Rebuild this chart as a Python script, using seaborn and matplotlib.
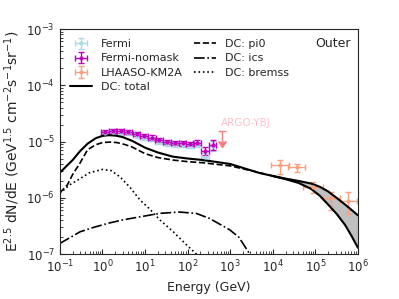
import numpy as np
import pandas as pd
import seaborn as sns
import matplotlib.pyplot as plt
from matplotlib.lines import Line2D

sns.set_style('ticks')
plt.rcParams['font.family'] = ['DejaVu Sans']

# Fermi-LAT points (GeV, E^2.5 flux)
fermi_E = [1.14, 1.73, 2.66, 4.02, 6.34, 9.55, 14.7, 21.5, 33.2, 50.2, 76.2, 113, 168, 255, 386]
nomask_F = [1.49e-5, 1.54e-5, 1.54e-5, 1.49e-5, 1.36e-5, 1.25e-5, 1.17e-5, 1.06e-5,
            9.9e-6, 9.5e-6, 9.3e-6, 9.0e-6, 9.5e-6, 6.8e-6, 8.7e-6]
nomask_dex = [0.04, 0.04, 0.04, 0.04, 0.04, 0.04, 0.04, 0.04,
              0.04, 0.04, 0.04, 0.04, 0.045, 0.07, 0.09]
fermi_F = [1.42e-5, 1.46e-5, 1.46e-5, 1.41e-5, 1.29e-5, 1.18e-5, 1.10e-5, 1.0e-5,
           9.3e-6, 8.9e-6, 8.7e-6, 8.4e-6, 8.8e-6, 5.4e-6, 8.2e-6]

# LHAASO-KM2A
lhaaso_E = [14800, 37600, 89100, 229000, 589000]
lhaaso_Elo = [9300, 22900, 52500, 155000, 380000]
lhaaso_Ehi = [24500, 57500, 155000, 380000, 933000]
lhaaso_F = [3.8e-6, 3.47e-6, 1.58e-6, 9.8e-7, 8.9e-7]
lhaaso_Flo = [2.64e-6, 2.9e-6, 1.2e-6, 6.2e-7, 5.1e-7]
lhaaso_Fhi = [4.8e-6, 3.94e-6, 1.9e-6, 1.28e-6, 1.28e-6]

# ARGO-YBJ upper limit
argo_E = [630]
argo_F = [1.55e-5]

# model curves
tot_E = [0.1, 0.15, 0.2, 0.3, 0.45, 0.7, 1.0, 1.4, 2.0, 3.0, 5.0, 10, 20, 45, 100, 230, 1000, 5000, 1e4]
tot_F = [2.8e-6, 3.8e-6, 4.7e-6, 6.8e-6, 9.2e-6, 1.15e-5, 1.26e-5, 1.3e-5, 1.28e-5, 1.2e-5,
         1.03e-5, 7.8e-6, 6.4e-6, 5.4e-6, 5.0e-6, 4.7e-6, 4.0e-6, 2.75e-6, 2.45e-6]
band_E = [1e4, 2e4, 4e4, 7.9e4, 1.26e5, 2e5, 3.16e5, 5e5, 7.1e5, 1e6]
band_hi = [2.45e-6, 2.2e-6, 2.0e-6, 1.8e-6, 1.58e-6, 1.3e-6, 1.0e-6, 7.6e-7, 6.1e-7, 4.9e-7]
band_lo = [2.45e-6, 2.15e-6, 1.85e-6, 1.45e-6, 1.1e-6, 7.6e-7, 5.2e-7, 3.3e-7, 2.1e-7, 1.3e-7]
pi0_E = [0.1, 0.15, 0.2, 0.3, 0.45, 0.7, 1.0, 1.5, 2.2, 3.3, 5.0, 10, 20, 45, 100, 230, 1000, 5000, 1e4]
pi0_F = [1.23e-6, 1.7e-6, 2.6e-6, 4.2e-6, 7.2e-6, 8.8e-6, 9.6e-6, 9.8e-6, 9.6e-6, 8.9e-6,
         8.0e-6, 6.1e-6, 5.2e-6, 4.7e-6, 4.4e-6, 4.2e-6, 3.7e-6, 2.8e-6, 2.45e-6]
ics_E = [0.1, 0.18, 0.3, 0.63, 1.5, 3.2, 7.6, 22, 63, 160, 330, 980, 1600, 2900, 4000]
ics_F = [1.55e-7, 2.0e-7, 2.5e-7, 3.0e-7, 3.6e-7, 4.1e-7, 4.6e-7, 5.3e-7, 5.6e-7, 5.3e-7,
         4.3e-7, 2.7e-7, 2.0e-7, 1.0e-7, 6e-8]
brem_E = [0.1, 0.17, 0.3, 0.5, 1.0, 1.6, 2.6, 4.4, 7.6, 13, 22, 46, 100, 162, 320]
brem_F = [1.2e-6, 1.7e-6, 2.2e-6, 2.8e-6, 3.2e-6, 3.05e-6, 2.35e-6, 1.55e-6, 9.2e-7, 6.3e-7,
          4.1e-7, 2.5e-7, 1.4e-7, 1.0e-7, 6e-8]

fig = plt.figure(figsize=(3.99, 2.99), dpi=100)
ax = fig.add_axes([0.150, 0.150, 0.747, 0.753])

fE = np.array(fermi_E)
xlo = fE - fE / 10**0.09
xhi = fE * 10**0.09 - fE
nd = 10**np.array(nomask_dex)
fF = np.array(fermi_F)
nF = np.array(nomask_F)
h_fermi = ax.errorbar(fermi_E, fermi_F, xerr=[xlo, xhi], yerr=[fF * (1 - 1 / nd), fF * (nd - 1)],
                      fmt='.', color='lightblue', ms=4, capsize=2, elinewidth=1)
h_nomask = ax.errorbar(fermi_E, nomask_F, xerr=[xlo, xhi], yerr=[nF * (1 - 1 / nd), nF * (nd - 1)],
                       fmt='.', color='m', ms=4, capsize=2, elinewidth=1)
lE = np.array(lhaaso_E)
lF = np.array(lhaaso_F)
h_lhaaso = ax.errorbar(lhaaso_E, lhaaso_F, xerr=[lE - np.array(lhaaso_Elo), np.array(lhaaso_Ehi) - lE],
                       yerr=[lF - np.array(lhaaso_Flo), np.array(lhaaso_Fhi) - lF],
                       fmt='.', color='#f9a07c', ms=4, capsize=2, elinewidth=1)
ax.errorbar(argo_E, argo_F, yerr=[[argo_F[0] * 0.35], [0]], uplims=True, fmt='none',
            color='lightcoral', capsize=3, elinewidth=1)
ax.text(argo_E[0] * 0.95, argo_F[0] * 1.12, 'ARGO-YBJ', color='pink', fontsize=7.5,
        ha='left', va='bottom')

ax.fill_between(band_E, band_lo, band_hi, color='silver', zorder=1)
sns.lineplot(x=tot_E, y=tot_F, color='k', lw=1.5, ax=ax)
sns.lineplot(x=band_E, y=band_hi, color='k', lw=1.5, ax=ax)
sns.lineplot(x=band_E, y=band_lo, color='k', lw=1.5, ax=ax)
sns.lineplot(x=pi0_E, y=pi0_F, color='k', lw=1.2, linestyle='--', ax=ax)
sns.lineplot(x=ics_E, y=ics_F, color='k', lw=1.2, linestyle='-.', ax=ax)
sns.lineplot(x=brem_E, y=brem_F, color='k', lw=1.2, linestyle=':', ax=ax)

ax.set_xscale('log')
ax.set_yscale('log')
ax.set_xlim(0.1, 1e6)
ax.set_ylim(1e-7, 1e-3)
ax.tick_params(which='both', direction='in', labelsize=8.5)
ax.set_xlabel('Energy (GeV)', fontsize=9)
ax.set_ylabel(r'E$^{2.5}$ dN/dE (GeV$^{1.5}$ cm$^{-2}$s$^{-1}$sr$^{-1}$)', fontsize=10, labelpad=3)
ax.text(0.975, 0.965, 'Outer', transform=ax.transAxes, ha='right', va='top', fontsize=9)

hl = [h_fermi, h_nomask, h_lhaaso,
      Line2D([], [], color='k', lw=1.5),
      Line2D([], [], color='k', lw=1.2, ls='--'),
      Line2D([], [], color='k', lw=1.2, ls='-.'),
      Line2D([], [], color='k', lw=1.2, ls=':')]
labels = ['Fermi', 'Fermi-nomask', 'LHAASO-KM2A', 'DC: total', 'DC: pi0', 'DC: ics', 'DC: bremss']
ax.legend(hl, labels, loc='upper left', ncol=2, frameon=False, fontsize=8,
          labelspacing=0.4, columnspacing=1.0)

fig.savefig('out.png', dpi=100)
